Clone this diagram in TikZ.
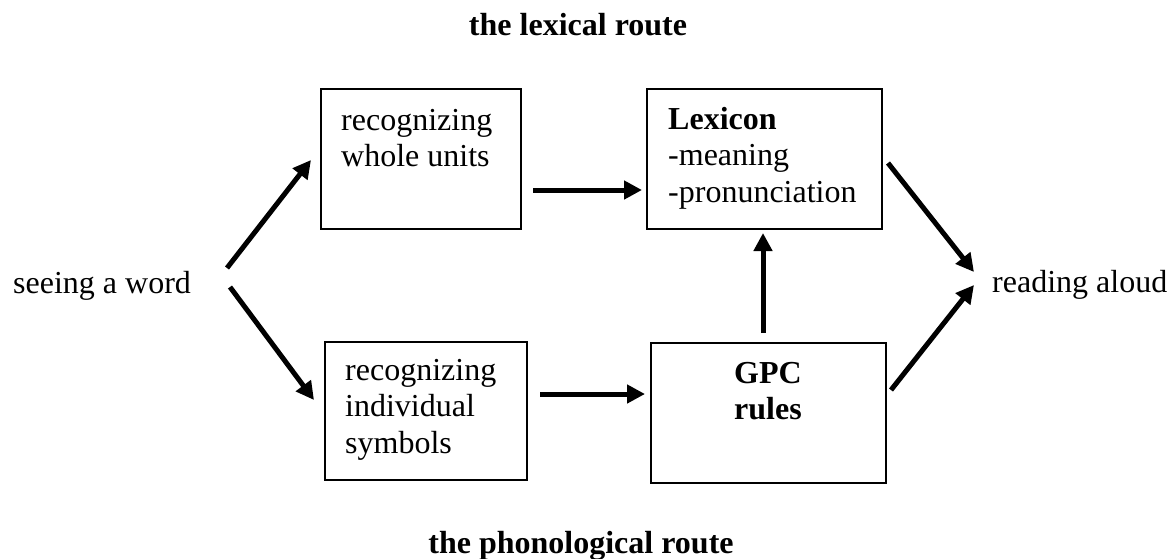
\documentclass[tikz,border=0pt]{standalone}
\usepackage{fontspec}
\setmainfont{Liberation Serif}
\usetikzlibrary{arrows.meta}
\begin{document}
\begin{tikzpicture}[x=1pt,y=-1pt,
  box/.style={draw,line width=1.4pt,inner sep=0pt},
  txt/.style={inner sep=0pt,anchor=base west,font=\fontsize{32}{36.8}\selectfont},
  ctxt/.style={inner sep=0pt,anchor=base,font=\fontsize{32}{36.5}\selectfont\bfseries},
  conn/.style={line width=5pt,-{Triangle[length=18pt,width=18pt]}}]
\useasboundingbox (0,0) rectangle (1170,558);
% boxes
\node[box,minimum width=200pt,minimum height=140pt] (b1) at (421,159) {};
\node[box,minimum width=235pt,minimum height=140pt] (b2) at (764.5,159) {};
\node[box,minimum width=202pt,minimum height=138pt] (b3) at (426,411) {};
\node[box,minimum width=235pt,minimum height=140pt] (b4) at (768.5,413) {};
% texts
\node[txt] (t1) at (341,130) {\begin{tabular}[t]{@{}l@{}}recognizing\\whole units\end{tabular}};
\node[txt] (t2) at (668,129) {\begin{tabular}[t]{@{}l@{}}\textbf{Lexicon}\\-meaning\\-pronunciation\end{tabular}};
\node[txt] (t3) at (345,380) {\begin{tabular}[t]{@{}l@{}}recognizing\\individual\\symbols\end{tabular}};
\node[ctxt] (t4) at (768,383) {\begin{tabular}[t]{@{}c@{}}GPC\\rules\end{tabular}};
\node[txt] (see) at (13,293) {seeing a word};
\node[txt] (read) at (992,292) {reading aloud};
\node[ctxt] (lex) at (578,35) {the lexical route};
\node[ctxt] (pho) at (581,553) {the phonological route};
% connector ends
\coordinate (s1) at (227,268); \coordinate (e1) at (311,160);
\coordinate (s2) at (230,287); \coordinate (e2) at (314,400);
\coordinate (s3) at (533,190); \coordinate (e3) at (642,190);
\coordinate (s4) at (540,394); \coordinate (e4) at (645,394);
\coordinate (s5) at (763,333); \coordinate (e5) at (763,233);
\coordinate (s6) at (888,163); \coordinate (e6) at (974,272);
\coordinate (s7) at (891,390); \coordinate (e7) at (974,285);
\draw[conn] (s1) -- (e1);
\draw[conn] (s2) -- (e2);
\draw[conn] (s3) -- (e3);
\draw[conn] (s4) -- (e4);
\draw[conn] (s5) -- (e5);
\draw[conn] (s6) -- (e6);
\draw[conn] (s7) -- (e7);
\end{tikzpicture}
\end{document}
